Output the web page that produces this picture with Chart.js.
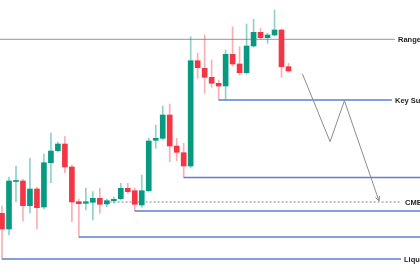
<!DOCTYPE html>
<html><head><meta charset="utf-8">
<script src="https://cdn.jsdelivr.net/npm/chart.js@4.4.1/dist/chart.umd.min.js"></script>
<style>html,body{margin:0;padding:0;background:#fff;overflow:hidden}canvas{display:block}</style>
</head><body>
<canvas id="c" width="420" height="280"></canvas>
<script>
// ---- data ----
const candleIndex = [0,1,2,3,4,5,6,7,8,9,10,11,12,13,14,15,16,17,18,19,20,21,22,23,24,25,26,27,28,29,30,31,32,33,34,35,36,37,38,39,40,41];
const opens  = [66.7,51,98.5,99,74.3,91,73,117.3,129.3,136,113,78.3,76.7,77.7,81.7,76,79.3,81.3,91.7,89.3,75,89.3,139.7,141.7,165,134,127.3,114,219.3,211.7,202.7,196.7,194,225.7,216,207.3,234,247.7,242.3,245,250,213.3];
const closes = [51,99,99.5,74.3,91,72.3,117.3,129,136,113,78,76.3,78.3,81.7,75.7,79.3,80.7,91.7,88.3,75.7,89.3,139,141.7,165,134,127.7,114,219.3,212.3,202.7,196.7,194,225.7,216,207.3,234,247.7,242.3,245,250,213.3,209];
const highs  = [74,103,114,101,122,93,126,147,138,143.3,115,81,92,88.3,91.7,81,83,96.7,96.7,92,105,142,155,174,176,141.7,136.7,243.3,226.7,245,220,200,230,253.3,233.3,256,260.7,251.7,247,270,251,216.7];
const lows   = [21,45,78,59,67,51,71,97.3,128,107.3,58.3,43,70,60,66.7,73.3,77,80,86.7,69,72.7,88,131.7,140,118.3,119.3,102.5,112,201.7,186.7,192.7,180,180.7,214,205,206,233,241,236.7,244,202.7,208];

const levelNames  = ['Range High','Key Support','','CME Gap','','','Liquidity'];
const levelValues = [240.7,180,102.5,78,69,43,21];
const levelStart  = [-1,31,26,15.4,19,11,0];

const projX = [43,46.95,49,53.95];
const projY = [206,138.3,179.3,79];

// ---- styles ----
const GREEN = '#089981', RED = '#f23645';
const GREEN_W = 'rgba(8,153,129,0.45)', RED_W = 'rgba(242,54,69,0.4)';
const levelStyle = [
  {color:'#959595', width:1, dash:[], labelX:398},
  {color:'#5b7fd6', width:1.3, dash:[], labelX:395},
  {color:'#5b7fd6', width:1.3, dash:[]},
  {color:'#8a8a8a', width:1, dash:[2,2], labelX:405},
  {color:'#5b7fd6', width:1.3, dash:[]},
  {color:'#5b7fd6', width:1.3, dash:[]},
  {color:'#5b7fd6', width:1.3, dash:[], labelX:404}
];

const isUp = candleIndex.map(i => closes[i] >= opens[i]);

const X_MIN = -0.2862, X_MAX = 59.817;

const datasets = [];
levelValues.forEach((v, k) => {
  const st = levelStyle[k];
  datasets.push({
    type:'line', data:[{x:levelStart[k], y:v},{x:X_MAX + 1, y:v}],
    borderColor:st.color, borderWidth:st.width, borderDash:st.dash,
    pointRadius:0, fill:false, tension:0, order:10
  });
});
datasets.push({
  type:'line', data: projX.map((x,k)=>({x, y:projY[k]})),
  borderColor:'#8c8c8c', borderWidth:1, pointRadius:0, fill:false, tension:0, order:9, id:'proj'
});
datasets.push({
  type:'bar', data: candleIndex.map(i => ({x:i, y:[lows[i], highs[i]]})),
  backgroundColor: candleIndex.map(i => isUp[i] ? GREEN_W : RED_W),
  barThickness:1, grouped:false, borderWidth:0, order:2
});
datasets.push({
  type:'bar', data: candleIndex.map(i => ({x:i, y:[opens[i], closes[i]]})),
  backgroundColor: candleIndex.map(i => isUp[i] ? GREEN : RED),
  barThickness:5, grouped:false, borderWidth:0, order:1
});

const annot = {
  id:'annot',
  afterDatasetsDraw(chart){
    const ctx = chart.ctx, ys = chart.scales.y;
    ctx.save();
    // arrow head
    const pm = chart.getDatasetMeta(levelValues.length).data;
    const a = pm[pm.length-2], b = pm[pm.length-1];
    const ang = Math.atan2(b.y - a.y, b.x - a.x);
    ctx.strokeStyle = '#8c8c8c'; ctx.lineWidth = 1;
    ctx.beginPath();
    ctx.moveTo(b.x - 5*Math.cos(ang - 0.45), b.y - 5*Math.sin(ang - 0.45));
    ctx.lineTo(b.x, b.y);
    ctx.lineTo(b.x - 5*Math.cos(ang + 0.45), b.y - 5*Math.sin(ang + 0.45));
    ctx.stroke();
    // labels
    ctx.font = "bold 7.5px 'Liberation Sans', Arial, sans-serif";
    ctx.textBaseline = 'middle';
    ctx.textAlign = 'left';
    levelNames.forEach((name, k) => {
      if (!name) return;
      const st = levelStyle[k];
      const y = ys.getPixelForValue(levelValues[k]);
      ctx.fillStyle = '#fff';
      ctx.fillRect(st.labelX - 3, y - 5, 60, 10);
      ctx.fillStyle = '#1e1e1e';
      ctx.fillText(name, st.labelX, y + 1);
    });
    ctx.restore();
  }
};

new Chart(document.getElementById('c'), {
  type:'bar',
  data:{ datasets },
  options:{
    responsive:false, animation:false,
    layout:{padding:0},
    plugins:{legend:{display:false}, tooltip:{enabled:false}},
    scales:{
      x:{type:'linear', min:X_MIN, max:X_MAX, offset:false, display:false},
      y:{type:'linear', min:0, max:280, display:false}
    }
  },
  plugins:[annot]
});
</script>
</body></html>
